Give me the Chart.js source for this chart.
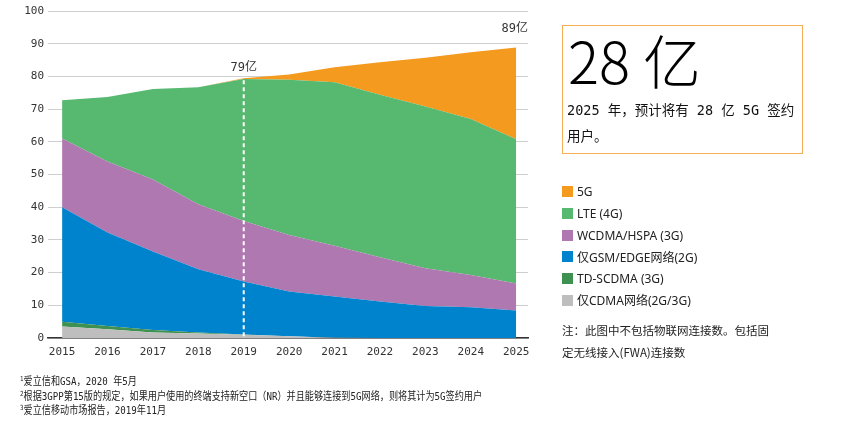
<!DOCTYPE html>
<html lang="zh">
<head>
  <meta charset="UTF-8">
  <title>移动签约用户</title>
  <script src="https://cdn.jsdelivr.net/npm/chart.js"></script>
  <style>
    body { margin: 0; width: 845px; height: 437px; position: relative; background: #fff; font-family: "Noto Sans", "Noto Sans CJK SC", sans-serif; color: #222; }
    #wrap { position: absolute; left: 0; top: 0; width: 845px; height: 437px; }
    .box { position: absolute; left: 562px; top: 25px; width: 239px; height: 127px; border: 1px solid #f7ae55; }
    .box .big { position: absolute; left: 5px; top: 0px; font-family: "Noto Sans CJK SC"; font-weight: 300; font-size: 58px; line-height: 66px; color: #000; }
    .box .sub { position: absolute; left: 4px; top: 71px; width: 235px; font-family: "DejaVu Sans Mono", "Noto Sans CJK SC"; font-size: 13.5px; line-height: 26px; color: #111; }
    #legend { position: absolute; left: 562px; top: 181px; font-size: 12px; color: #222; }
    #legend div { height: 21.7px; display: flex; align-items: center; }
    #legend span.sw { display: inline-block; width: 11px; height: 11px; margin-right: 4px; }
    .note { position: absolute; left: 562px; top: 319px; font-family: "Noto Sans CJK SC"; font-size: 11.5px; line-height: 22px; color: #222; }
    .foot { position: absolute; left: 20px; top: 375px; white-space: nowrap; font-family: "DejaVu Sans Mono", "Noto Sans CJK SC"; font-size: 11px; line-height: 14.5px; color: #222; transform: scaleX(0.83); transform-origin: left top; }
    .foot sup { font-size: 7px; line-height: 0; vertical-align: 4px; }
  </style>
</head>
<body>
  <div id="wrap"><canvas id="c"></canvas></div>

  <div class="box">
    <div class="big">28 亿</div>
    <div class="sub">2025 年，预计将有 28 亿 5G 签约用户。</div>
  </div>
  <div id="legend"></div>
  <div class="note">注：此图中不包括物联网连接数。包括固<br>定无线接入(FWA)连接数</div>
  <div class="foot">
    <sup>1</sup>爱立信和GSA，2020 年5月<br>
    <sup>2</sup>根据3GPP第15版的规定，如果用户使用的终端支持新空口（NR）并且能够连接到5G网络，则将其计为5G签约用户<br>
    <sup>3</sup>爱立信移动市场报告，2019年11月
  </div>

  <script>
    const years = [2015, 2016, 2017, 2018, 2019, 2020, 2021, 2022, 2023, 2024, 2025];

    // 亿 subscriptions, bottom of the stack first
    const cdma    = [3.5, 2.7, 1.7, 1.4, 1.0, 0.5, 0.1, 0, 0, 0, 0];
    const tdscdma = [1.5, 1.0, 0.75, 0.3, 0.1, 0, 0, 0, 0, 0, 0];
    const gsm     = [35.0, 28.6, 24.0, 19.3, 16.2, 13.7, 12.6, 11.2, 9.8, 9.4, 8.4];
    const wcdma   = [21.0, 21.7, 22.0, 19.9, 18.5, 17.3, 15.5, 13.5, 11.5, 9.9, 8.3];
    const lte     = [11.7, 19.7, 27.7, 35.8, 43.4, 47.5, 50.0, 49.7, 49.5, 47.7, 44.1];
    const fiveG   = [0, 0, 0, 0, 0.2, 1.6, 4.6, 9.9, 14.9, 20.4, 28.0];

    const seriesNames  = ['仅CDMA网络(2G/3G)', 'TD-SCDMA (3G)', '仅GSM/EDGE网络(2G)', 'WCDMA/HSPA (3G)', 'LTE (4G)', '5G'];
    const seriesColors = ['#bebebe', '#3e9150', '#0083cd', '#b078b0', '#57b870', '#f39a1f'];
    const seriesData   = [cdma, tdscdma, gsm, wcdma, lte, fiveG];

    const calloutYears = [2019, 2025];

    const totals = years.map((y, i) => seriesData.reduce((s, d) => s + d[i], 0));

    // legend, top of the stack first
    const legend = document.getElementById('legend');
    for (let i = seriesNames.length - 1; i >= 0; i--) {
      const row = document.createElement('div');
      row.innerHTML = `<span class="sw" style="background:${seriesColors[i]}"></span>${seriesNames[i]}`;
      legend.appendChild(row);
    }

    const datasets = seriesData.map((d, i) => ({
      label: seriesNames[i],
      data: years.map((y, j) => ({ x: y, y: d[j] })),
      backgroundColor: seriesColors[i],
      borderWidth: 0,
      pointRadius: 0,
      tension: 0,
      fill: i === 0 ? 'origin' : '-1'
    }));

    const callouts = {
      id: 'callouts',
      afterDatasetsDraw(chart) {
        const { ctx, scales: { x, y }, chartArea } = chart;
        ctx.save();
        ctx.font = '12px "DejaVu Sans Mono", "Noto Sans CJK SC"';
        ctx.fillStyle = '#333';
        calloutYears.forEach((yr, k) => {
          const i = years.indexOf(yr);
          const px = x.getPixelForValue(yr);
          const py = y.getPixelForValue(totals[i]);
          const txt = Math.round(totals[i]) + '亿';
          if (k === 0) {
            ctx.strokeStyle = '#fff';
            ctx.lineWidth = 2;
            ctx.setLineDash([4, 3]);
            ctx.beginPath();
            ctx.moveTo(px, py + 2);
            ctx.lineTo(px, chartArea.bottom);
            ctx.stroke();
            ctx.textAlign = 'center';
            ctx.textBaseline = 'bottom';
            ctx.fillText(txt, px, py - 4);
          } else {
            ctx.textAlign = 'right';
            ctx.textBaseline = 'bottom';
            ctx.fillText(txt, chartArea.right, py - 13);
          }
        });
        ctx.restore();
      }
    };

    new Chart(document.getElementById('c'), {
      type: 'line',
      data: { datasets },
      options: {
        responsive: true,
        maintainAspectRatio: false,
        animation: false,
        layout: { padding: { left: 0, top: 11, right: 317, bottom: 72 } },
        plugins: { legend: { display: false }, tooltip: { enabled: false } },
        scales: {
          x: {
            type: 'linear',
            min: 2014.69,
            max: 2025.26,
            afterBuildTicks: axis => { axis.ticks = years.map(v => ({ value: v })); },
            afterFit: axis => { axis.height = 27; },
            grid: { display: false, drawTicks: false },
            border: { display: true, color: '#333', width: 1.5 },
            ticks: {
              callback: v => String(v),
              color: '#333',
              padding: 8,
              maxRotation: 0,
              autoSkip: false,
              font: { family: 'DejaVu Sans Mono', size: 11 }
            }
          },
          y: {
            stacked: true,
            min: 0,
            max: 100,
            afterFit: axis => { axis.width = 48; },
            grid: { color: '#cfcfcf', lineWidth: 1, drawTicks: false },
            border: { display: false },
            ticks: {
              stepSize: 10,
              color: '#333',
              padding: 4,
              font: { family: 'DejaVu Sans Mono', size: 11 }
            }
          }
        }
      },
      plugins: [callouts]
    });
  </script>
</body>
</html>
